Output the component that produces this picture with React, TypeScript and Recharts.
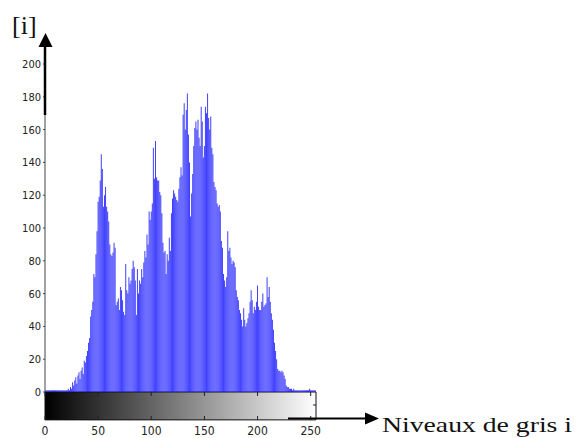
import React from 'react';
import { ComposedChart, Bar, XAxis, YAxis, ReferenceArea } from 'recharts';

// Histogram counts per gray level 0..255
const counts: number[] = [
  1, 1, 1, 1, 1, 1, 1, 1, 1, 1,
  1, 1, 1, 1, 1, 1, 1, 1, 1, 1,
  1, 1, 2, 1, 3, 2, 6, 4, 7, 9,
  5, 10, 12, 8, 13, 15, 11, 19, 18, 22,
  25, 30, 33, 46, 50, 55, 72, 70, 84, 98,
  116, 119, 129, 145, 136, 113, 120, 125, 113, 110,
  104, 90, 84, 83, 85, 91, 88, 53, 55, 57,
  50, 64, 62, 56, 49, 47, 78, 62, 60, 70,
  66, 68, 75, 80, 76, 68, 47, 75, 60, 68,
  66, 75, 70, 79, 86, 82, 96, 90, 110, 105,
  110, 115, 149, 130, 153, 131, 129, 129, 122, 120,
  109, 91, 85, 86, 72, 84, 80, 94, 86, 109,
  118, 123, 121, 119, 117, 116, 124, 131, 137, 132,
  169, 176, 160, 172, 182, 157, 140, 107, 121, 133,
  150, 161, 165, 160, 166, 155, 150, 174, 165, 143,
  150, 174, 170, 182, 167, 160, 168, 149, 145, 128,
  125, 123, 115, 113, 114, 110, 92, 88, 72, 68,
  64, 70, 98, 86, 88, 82, 78, 80, 79, 76,
  62, 58, 56, 50, 48, 44, 40, 51, 44, 40,
  42, 45, 48, 55, 62, 56, 48, 52, 50, 55,
  65, 52, 50, 50, 55, 60, 52, 53, 54, 70,
  58, 64, 55, 48, 44, 38, 30, 25, 20, 14,
  13, 13, 12, 13, 12, 10, 8, 4, 3, 3,
  2, 2, 2, 1, 2, 1, 1, 1, 1, 1,
  1, 1, 1, 1, 1, 1, 1, 1, 1, 2,
  1, 1, 1, 1, 1, 1,
];

const xTicks = [0, 50, 100, 150, 200, 250];
const yTicks = [0, 20, 40, 60, 80, 100, 120, 140, 160, 180, 200];
const xDomain = [0, 255];
const yDomain = [0, 200];
const rampRange = [-17, 0];
const yLabel = '[i]';
const xLabel = 'Niveaux de gris i';

const data = counts.map((c, i) => ({ level: i, count: c }));

const NARROW = '"Liberation Sans Narrow", "DejaVu Sans Condensed", "Arial Narrow", sans-serif';
const SERIF = '"Liberation Serif", "Times New Roman", serif';

function XTick(props: any) {
  const { x, y, payload } = props;
  return (
    <g>
      <line x1={x} x2={x} y1={y} y2={y + 4} stroke="#222" strokeWidth={1} />
      <line x1={x} x2={x} y1={y + 24} y2={y + 28} stroke="#222" strokeWidth={1} />
      <text x={x} y={y + 43} textAnchor="middle" fontSize={12} fontFamily={NARROW} fill="#222">
        {payload.value}
      </text>
    </g>
  );
}

export default function App() {
  return (
    <div style={{ position: 'absolute', left: 0, top: 0, width: 576, height: 438, background: '#fff' }}>
      <ComposedChart
        width={576}
        height={438}
        data={data}
        margin={{ top: 64, right: 260, bottom: 0, left: 0 }}
        barCategoryGap={0}
        barGap={0}
      >
        <defs>
          <linearGradient id="grayRamp" x1="0" y1="0" x2="1" y2="0">
            <stop offset="0" stopColor="#000000" />
            <stop offset="1" stopColor="#ffffff" />
          </linearGradient>
        </defs>
        <XAxis
          dataKey="level"
          type="number"
          domain={xDomain}
          ticks={xTicks}
          height={46}
          tickSize={0}
          tickMargin={0}
          axisLine={false}
          tickLine={false}
          tick={<XTick />}
          interval={0}
          allowDataOverflow
        />
        <YAxis
          type="number"
          domain={yDomain}
          ticks={yTicks}
          width={45}
          tickSize={2}
          tickMargin={2}
          axisLine={{ stroke: '#444' }}
          tickLine={{ stroke: '#444' }}
          tick={{ fontSize: 11, fill: '#222', fontFamily: NARROW }}
          interval={0}
        />
        <ReferenceArea
          x1={xDomain[0]}
          x2={xDomain[1]}
          y1={rampRange[0]}
          y2={rampRange[1]}
          ifOverflow="visible"
          fill="url(#grayRamp)"
          fillOpacity={1}
          stroke="#111"
          strokeWidth={1}
        />
        <Bar dataKey="count" fill="#1010ff" fillOpacity={0.8} barSize={1} isAnimationActive={false} />
      </ComposedChart>
      <svg
        width={576}
        height={438}
        style={{ position: 'absolute', left: 0, top: 0, pointerEvents: 'none' }}
      >
        <line x1={45} x2={45} y1={46} y2={115} stroke="#000" strokeWidth={2.5} />
        <polygon points="45.5,33 38.5,47 52.5,47" fill="#000" />
        <text x={12} y={34} fontSize={26} fontFamily={SERIF} fill="#111">{yLabel}</text>
        <line x1={313} x2={316} y1={405} y2={405} stroke="#222" strokeWidth={1} />
        <line x1={288} x2={367} y1={418.5} y2={418.5} stroke="#000" strokeWidth={2} />
        <polygon points="379,418.5 365,412.5 365,424.5" fill="#000" />
        <text x={382} y={432} fontSize={21} fontFamily={SERIF} fill="#111" textLength={190} lengthAdjust="spacingAndGlyphs">
          {xLabel}
        </text>
      </svg>
    </div>
  );
}
